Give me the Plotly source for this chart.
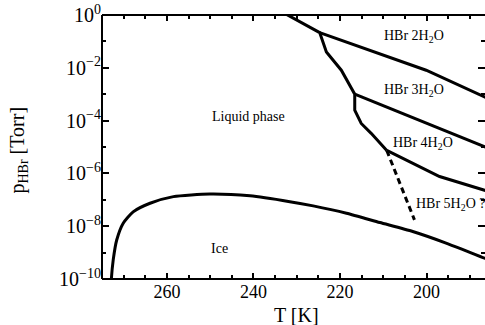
import plotly.graph_objects as go

# Phase boundaries of the HBr / H2O system (temperature in K, HBr pressure in Torr)
ice_T = [272.95, 272.85, 272.4, 271.6, 270.1, 267.8, 263.9, 258.5, 250.1, 240.8,
         231.6, 226.2, 218.5, 210.8, 203.2, 195.5, 186.6, 185.0]
ice_p = [4.0e-11, 9.3e-11, 5.4e-10, 3.0e-9, 1.3e-8, 3.5e-8, 7.4e-8, 1.32e-7, 1.66e-7, 1.41e-7,
         8.5e-8, 5.9e-8, 3.1e-8, 1.38e-8, 6.3e-9, 2.3e-9, 6.2e-10, 5.0e-10]

liquidus_T = [233.0, 224.7, 223.15, 219.7, 216.6, 216.6, 215.1, 212.8, 209.2]
liquidus_p = [1.2, 0.216, 0.040, 8.1e-3, 1.0e-3, 2.5e-4, 7.8e-5, 3.3e-5, 7.4e-6]

dihydrate_T = [224.7, 200.1, 186.6, 185.0]
dihydrate_p = [0.216, 8.1e-3, 7.9e-4, 6.0e-4]

trihydrate_T = [216.6, 200.1, 186.6, 185.0]
trihydrate_p = [1.0e-3, 7.8e-5, 1.02e-5, 8.1e-6]

tetrahydrate_T = [209.2, 197.0, 186.6, 185.0]
tetrahydrate_p = [7.4e-6, 7.6e-7, 2.3e-7, 1.9e-7]

pentahydrate_T = [209.2, 202.8]
pentahydrate_p = [7.4e-6, 1.74e-8]

# Region labels: (text, T, log10 p, x anchor)
region_labels = [
    ("HBr 2H<sub>2</sub>O", 202.8, -0.83, "center"),
    ("HBr 3H<sub>2</sub>O", 202.8, -2.85, "center"),
    ("HBr 4H<sub>2</sub>O", 200.85, -4.86, "center"),
    ("HBr 5H<sub>2</sub>O ?", 202.8, -7.19, "left"),
    ("Liquid phase", 241.1, -3.86, "center"),
    ("Ice", 247.9, -8.86, "center"),
]

x_ticks = [260, 240, 220, 200]
y_major = [1e0, 1e-2, 1e-4, 1e-6, 1e-8, 1e-10]
y_major_text = ["10<sup>0</sup>", "10<sup>\u22122</sup>", "10<sup>\u22124</sup>",
                "10<sup>\u22126</sup>", "10<sup>\u22128</sup>", "10<sup>\u221210</sup>"]
y_minor = [1e-1, 1e-3, 1e-5, 1e-7, 1e-9]

FONT = "Liberation Serif"
line = dict(color="black", width=3)

fig = go.Figure()
for T, p, extra in [
    (ice_T, ice_p, dict(shape="spline", smoothing=0.6)),
    (liquidus_T, liquidus_p, {}),
    (dihydrate_T, dihydrate_p, {}),
    (trihydrate_T, trihydrate_p, {}),
    (tetrahydrate_T, tetrahydrate_p, {}),
]:
    fig.add_trace(go.Scatter(x=T, y=p, mode="lines", line=dict(line, **extra),
                             showlegend=False, hoverinfo="skip"))
fig.add_trace(go.Scatter(x=pentahydrate_T, y=pentahydrate_p, mode="lines",
                         line=dict(color="black", width=3, dash="6px,4px"),
                         showlegend=False, hoverinfo="skip"))

for text, T, lp, anchor in region_labels:
    fig.add_annotation(x=T, y=lp, text=text, showarrow=False, xanchor=anchor,
                       font=dict(family=FONT, size=14, color="black"))

# Axis titles
fig.add_annotation(xref="paper", yref="paper", x=0.509, y=-0.136, text="T [K]",
                   showarrow=False, xanchor="center", yanchor="middle",
                   font=dict(family=FONT, size=20, color="black"))
fig.add_annotation(xref="paper", yref="paper", x=-0.217, y=0.49,
                   text="p<sub>HBr</sub> [Torr]", textangle=-90, showarrow=False,
                   xanchor="center", yanchor="middle",
                   font=dict(family=FONT, size=20, color="black"))

# Frame on left, top and bottom
for x0, y0, x1, y1 in [(0, 0, 0, 1), (0, 0, 1, 0), (0, 1, 1, 1)]:
    fig.add_shape(type="line", xref="paper", yref="paper", x0=x0, y0=y0, x1=x1, y1=y1,
                  line=dict(color="black", width=2))

fig.update_xaxes(range=[275, 186.5], tickvals=x_ticks, ticks="inside", ticklen=6,
                 tickwidth=1.5, tickcolor="black", showline=False, mirror="ticks",
                 showgrid=False, zeroline=False,
                 minor=dict(dtick=5, tick0=0, ticks="inside", ticklen=4, tickwidth=1.5,
                            tickcolor="black", showgrid=False),
                 tickfont=dict(family=FONT, size=18, color="black"))
fig.update_yaxes(type="log", range=[-10, 0], tickvals=y_major, ticktext=y_major_text,
                 ticks="inside", ticklen=7, tickwidth=1.5, tickcolor="black",
                 showline=False, mirror="ticks", showgrid=False, zeroline=False,
                 minor=dict(tickvals=y_minor, ticks="inside", ticklen=4, tickwidth=1.5,
                            tickcolor="black", showgrid=False),
                 tickfont=dict(family=FONT, size=20, color="black"))

fig.update_layout(width=485, height=325, margin=dict(l=102, r=0, t=15, b=46),
                  plot_bgcolor="white", paper_bgcolor="white",
                  font=dict(family=FONT, color="black"))

fig.write_html("out.html")
